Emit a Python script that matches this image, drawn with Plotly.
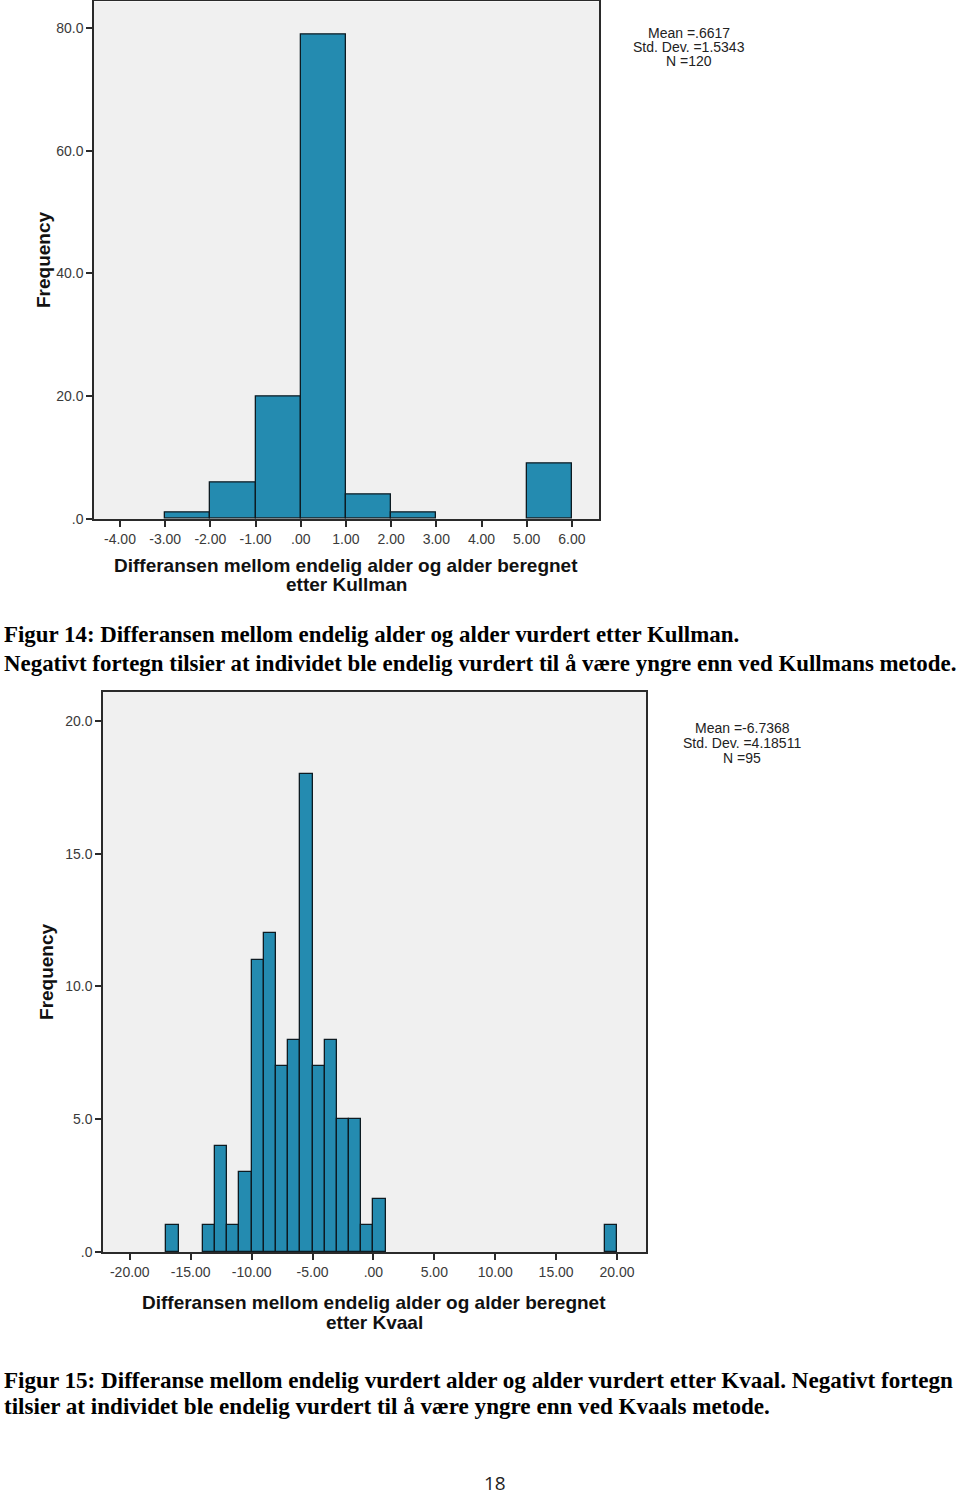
import plotly.graph_objects as go

W, H = 960, 1505
SY = 1513 / 1505  # small vertical correction observed in the rendered picture

# ---- data: Figur 14 (Kullman) ----
kull_bin_left = [-3, -2, -1, 0, 1, 2, 5]
kull_counts = [1, 6, 20, 79, 4, 1, 9]
kull_xticks = [-4, -3, -2, -1, 0, 1, 2, 3, 4, 5, 6]
kull_xticktext = ["-4.00", "-3.00", "-2.00", "-1.00", ".00", "1.00", "2.00", "3.00", "4.00", "5.00", "6.00"]
kull_yticks = [0, 20, 40, 60, 80]
kull_yticktext = [".0", "20.0", "40.0", "60.0", "80.0"]
kull_stats = ["Mean =.6617", "Std. Dev. =1.5343", "N =120"]

# ---- data: Figur 15 (Kvaal) ----
kvaal_bin_left = [-17, -14, -13, -12, -11, -10, -9, -8, -7, -6, -5, -4, -3, -2, -1, 0, 19]
kvaal_counts = [1, 1, 4, 1, 3, 11, 12, 7, 8, 18, 7, 8, 5, 5, 1, 2, 1]
kvaal_xticks = [-20, -15, -10, -5, 0, 5, 10, 15, 20]
kvaal_xticktext = ["-20.00", "-15.00", "-10.00", "-5.00", ".00", "5.00", "10.00", "15.00", "20.00"]
kvaal_yticks = [0, 5, 10, 15, 20]
kvaal_yticktext = [".0", "5.0", "10.0", "15.0", "20.0"]
kvaal_stats = ["Mean =-6.7368", "Std. Dev. =4.18511", "N =95"]

BAR = "#248bb0"
EDGE = "#0d1b22"

def px(x):
    return min(1.0, max(0.0, x / W))

def py(y):
    return min(1.0, max(0.0, 1 - y * SY / H))

fig = go.Figure()
fig.add_trace(go.Bar(x=[b + 0.5 for b in kull_bin_left], y=kull_counts, width=1,
                     marker=dict(color=BAR, line=dict(color=EDGE, width=1.3)),
                     xaxis="x", yaxis="y", showlegend=False))
fig.add_trace(go.Bar(x=[b + 0.5 for b in kvaal_bin_left], y=kvaal_counts, width=1,
                     marker=dict(color=BAR, line=dict(color=EDGE, width=1.3)),
                     xaxis="x2", yaxis="y2", showlegend=False))

tickfont = dict(family="Liberation Sans, Arial", size=14, color="#3a3a3a")
axcommon = dict(showgrid=False, zeroline=False, showline=True, linecolor="#2a2a2a",
                linewidth=1.5, mirror=True, ticks="outside", ticklen=6, tickwidth=1.5,
                tickcolor="#2a2a2a", tickfont=tickfont, tickmode="array")

fig.update_layout(
    width=W, height=H, margin=dict(l=0, r=0, t=0, b=0),
    paper_bgcolor="white", plot_bgcolor="#f0f0f0", bargap=0,
    xaxis=dict(domain=[px(94), px(599)], range=[-4.575, 6.6], anchor="y",
               tickvals=kull_xticks, ticktext=kull_xticktext, **axcommon),
    yaxis=dict(domain=[py(519), py(1.5)], range=[0, 84.3], anchor="x",
               tickvals=kull_yticks, ticktext=kull_yticktext, **axcommon),
    xaxis2=dict(domain=[px(103), px(646)], range=[-22.2, 22.38], anchor="y2",
                tickvals=kvaal_xticks, ticktext=kvaal_xticktext, **axcommon),
    yaxis2=dict(domain=[py(1252), py(692)], range=[0, 21.09], anchor="x2",
                tickvals=kvaal_yticks, ticktext=kvaal_yticktext, **axcommon),
)

ann = []
titlefont = dict(family="Liberation Sans, Arial", size=19, color="#111111")
def add(text, x, y, font, xanchor="center", yanchor="middle", angle=0, align="center", **kw):
    d = dict(text=text, x=px(x), y=py(y), xref="paper", yref="paper",
             showarrow=False, font=font, xanchor=xanchor, yanchor=yanchor,
             textangle=angle, align=align)
    d.update(kw)
    ann.append(d)

# axis titles
add("<b>Frequency</b>", 44, 260, titlefont, angle=-90)
add("<b>Frequency</b>", 47, 972, titlefont, angle=-90)
add("<b>Differansen mellom endelig alder og alder beregnet</b>", 346, 566, titlefont)
add("<b>etter Kullman</b>", 346, 585, titlefont)
add("<b>Differansen mellom endelig alder og alder beregnet</b>", 374, 1303, titlefont)
add("<b>etter Kvaal</b>", 374, 1323, titlefont)

# stats boxes
statfont = dict(family="Liberation Sans, Arial", size=14, color="#222222")
for i, s in enumerate(kull_stats):
    add(s, 689, 33 + 14 * i, statfont)
for i, s in enumerate(kvaal_stats):
    add(s, 742, 728 + 15 * i, statfont)

# captions
cap14 = dict(family="Liberation Serif, Times New Roman", size=22.9, color="#000000")
cap15 = dict(family="Liberation Serif, Times New Roman", size=23.1, color="#000000")
add("<b>Figur 14: Differansen mellom endelig alder og alder vurdert etter Kullman.</b>", 2, 635, cap14, xanchor="left")
add("<b>Negativt fortegn tilsier at individet ble endelig vurdert til å være yngre enn ved Kullmans metode.</b>", 2, 664, cap14, xanchor="left")
add("<b>Figur 15: Differanse mellom endelig vurdert alder og alder vurdert etter Kvaal. Negativt fortegn</b>", 2, 1380, cap15, xanchor="left")
add("<b>tilsier at individet ble endelig vurdert til å være yngre enn ved Kvaals metode.</b>", 2, 1406, cap15, xanchor="left")

# page number, kept fully inside the page
add("18", 495, 1505, dict(family="Open Sans, Liberation Sans", size=19, color="#222222"),
    yanchor="bottom", borderpad=0)

fig.update_layout(annotations=ann)
# remove the default 8px page margin so the figure sits at the window's corner
fig.write_html("out.html", config={"displayModeBar": False},
               post_script="document.body.style.margin='0';document.documentElement.style.overflow='hidden';")
